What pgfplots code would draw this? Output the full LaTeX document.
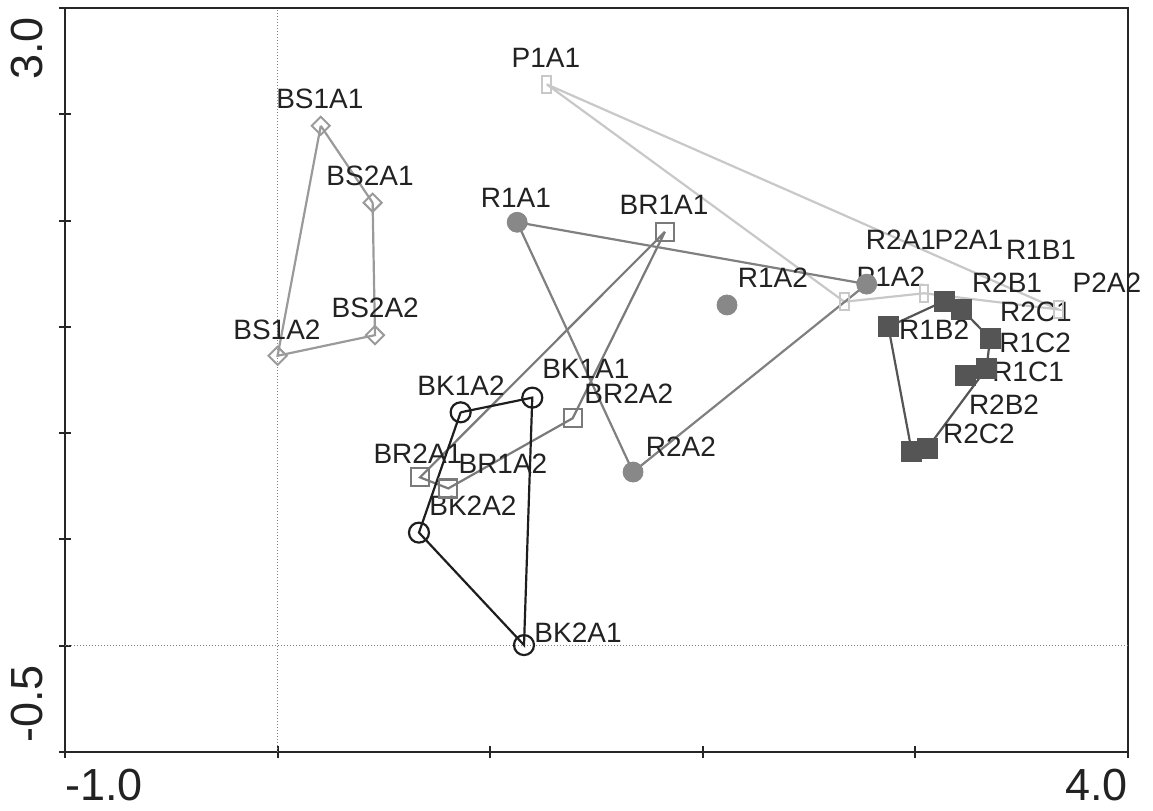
\documentclass[border=0pt]{standalone}
\usepackage{pgfplots}
\pgfplotsset{compat=1.18}
\usepackage{fontspec}
\setmainfont{Liberation Sans}
\definecolor{cBS}{HTML}{9A9A9A}
\definecolor{cBK}{HTML}{1E1E1E}
\definecolor{cBR}{HTML}{7A7A7A}
\definecolor{cR}{HTML}{888888}
\definecolor{cRl}{HTML}{808080}
\definecolor{cP}{HTML}{C8C8C8}
\definecolor{cD}{HTML}{555555}
\definecolor{cT}{HTML}{222222}
\begin{document}
\begin{tikzpicture}
\begin{axis}[
  at={(0,0)}, anchor=south west,
  scale only axis, width=531.5pt, height=372pt,
  xmin=-1, xmax=4, ymin=-0.5, ymax=3,
  xtick={-1,0,1,2,3,4}, ytick={-0.5,0,0.5,1,1.5,2,2.5,3},
  xticklabels={,,,,,}, yticklabels={,,,,,,,},
  tick align=center, major tick length=6pt,
  xtick pos=bottom, ytick pos=left,
  axis line style={line width=1.4pt, color=black!85},
  every tick/.style={line width=1pt, black!85},
  clip=false,
]
% reference lines
\addplot[densely dotted, gray, line width=0.5pt] coordinates {(0,-0.5) (0,3)};
\addplot[densely dotted, gray, line width=0.5pt] coordinates {(-1,0) (4,0)};
% hulls
\addplot[cP, line width=1.1pt] coordinates {(1.266,2.641) (3.672,1.582) (3.040,1.658) (2.666,1.618) (1.266,2.641)};
\addplot[cBS, line width=1.1pt] coordinates {(0.203,2.446) (0.447,2.084) (0.458,1.461) (0.000,1.364) (0.203,2.446)};
\addplot[cBR, line width=1.1pt] coordinates {(1.822,1.947) (1.388,1.070) (0.803,0.740) (0.670,0.792) (1.822,1.947)};
\addplot[cRl, line width=1.1pt] coordinates {(1.127,1.992) (2.771,1.701) (1.672,0.817) (1.127,1.992)};
\addplot[cBK, line width=1.1pt] coordinates {(0.861,1.098) (1.198,1.167) (1.159,0.003) (0.665,0.532) (0.861,1.098)};
\addplot[cD, line width=1.1pt] coordinates {(2.873,1.500) (3.135,1.621) (3.218,1.582) (3.351,1.446) (3.335,1.305) (3.056,0.929) (2.983,0.913) (2.873,1.500)};
% markers
\addplot[only marks, mark=square, mark size=4.25pt, mark options={xscale=0.5, draw=cP, fill=white, line width=1pt}] coordinates {(1.266,2.641) (2.666,1.618) (3.040,1.658) (3.672,1.582)};
\addplot[only marks, mark=square, mark size=3.2pt, mark options={rotate=45, draw=cBS, fill=white, line width=1pt}] coordinates {(0.203,2.446) (0.447,2.084) (0.458,1.461) (0.000,1.364)};
\addplot[only marks, mark=square, mark size=4.5pt, mark options={draw=cBR, fill=white, fill opacity=0, line width=1.1pt}] coordinates {(1.822,1.947) (1.388,1.070) (0.803,0.740) (0.670,0.792)};
\addplot[only marks, mark=*, mark size=5pt, mark options={draw=cR, fill=cR}] coordinates {(1.127,1.992) (2.114,1.603) (2.771,1.701) (1.672,0.817)};
\addplot[only marks, mark=o, mark size=5pt, mark options={draw=cBK, line width=1.1pt}] coordinates {(0.861,1.098) (1.198,1.167) (1.159,0.003) (0.665,0.532)};
\addplot[only marks, mark=square*, mark size=5pt, mark options={draw=cD, fill=cD}] coordinates {(3.135,1.621) (3.218,1.582) (2.873,1.500) (3.351,1.446) (3.234,1.273) (3.335,1.305) (2.983,0.913) (3.056,0.929)};
% point labels
\begin{scope}[every node/.style={inner sep=0pt, anchor=center, text=cT, font=\fontsize{14}{16}\selectfont}]
\node at (axis cs:1.262,2.764) {P1A1};
\node at (axis cs:0.199,2.572) {BS1A1};
\node at (axis cs:0.435,2.209) {BS2A1};
\node at (axis cs:0.459,1.588) {BS2A2};
\node at (axis cs:-0.003,1.485) {BS1A2};
\node at (axis cs:1.121,2.106) {R1A1};
\node at (axis cs:1.818,2.073) {BR1A1};
\node at (axis cs:2.330,1.730) {R1A2};
\node at (axis cs:2.932,1.908) {R2A1};
\node at (axis cs:3.252,1.908) {P2A1};
\node at (axis cs:3.591,1.861) {R1B1};
\node at (axis cs:2.885,1.734) {P1A2};
\node at (axis cs:3.431,1.706) {R2B1};
\node at (axis cs:3.901,1.706) {P2A2};
\node at (axis cs:3.567,1.569) {R2C1};
\node at (axis cs:3.088,1.485) {R1B2};
\node at (axis cs:3.563,1.424) {R1C2};
\node at (axis cs:3.530,1.288) {R1C1};
\node at (axis cs:3.417,1.132) {R2B2};
\node at (axis cs:3.299,0.996) {R2C2};
\node at (axis cs:0.863,1.222) {BK1A2};
\node at (axis cs:1.450,1.301) {BK1A1};
\node at (axis cs:1.652,1.184) {BR2A2};
\node at (axis cs:0.660,0.902) {BR2A1};
\node at (axis cs:1.060,0.855) {BR1A2};
\node at (axis cs:0.919,0.657) {BK2A2};
\node at (axis cs:1.413,0.060) {BK2A1};
\node at (axis cs:1.897,0.935) {R2A2};
\end{scope}
% tick labels
\begin{scope}[every node/.style={inner sep=0pt, text=cT, font=\fontsize{22.5}{26}\selectfont}]
\node[anchor=north west, yshift=-8.5pt] at (rel axis cs:0,0) {-1.0};
\node[anchor=north east, yshift=-8.5pt] at (rel axis cs:1,0) {4.0};
\node[xshift=-11pt, yshift=-4.5pt, rotate=90, anchor=south east] at (rel axis cs:0,1) {3.0};
\node[xshift=-11pt, yshift=4.5pt, rotate=90, anchor=south west] at (rel axis cs:0,0) {-0.5};
\end{scope}
\end{axis}
\pgfresetboundingbox
\path (-32.5pt,-29pt) rectangle (544pt,376pt);
\end{tikzpicture}
\end{document}
